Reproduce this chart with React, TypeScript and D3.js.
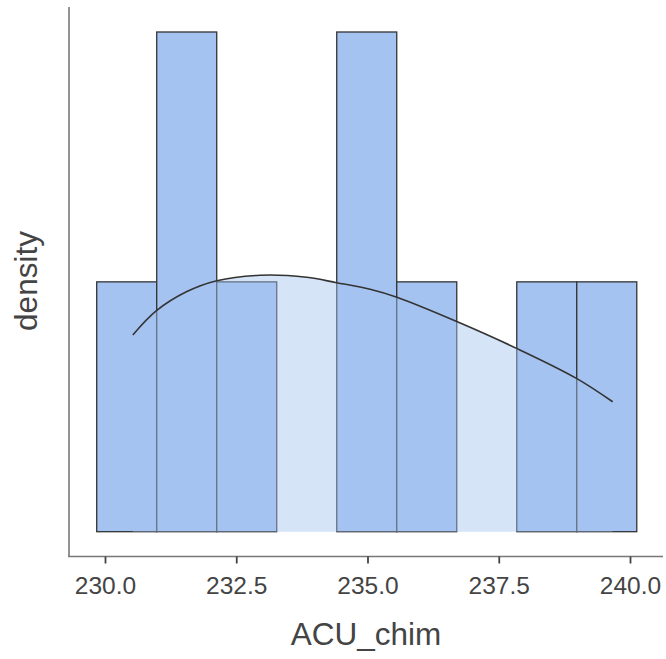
import React, { useEffect, useRef } from 'react';
import * as d3 from 'd3';

// histogram bins (left edges + counts) for ACU_chim
const binEdges = [229.842, 230.985, 232.128, 233.271, 234.414, 235.557, 236.7, 237.843, 238.986, 240.129];
const binCounts = [2, 4, 2, 0, 4, 2, 0, 2, 2];
const sampleSize = 20;

// density curve
const curveX = [230.53, 230.98, 231.56, 232.13, 232.95, 233.84, 234.41, 235.05, 235.56, 236.7, 237.84, 238.98, 239.67];
const curveDensity = [0.0689, 0.0774, 0.0841, 0.0879, 0.0898, 0.0891, 0.0872, 0.0849, 0.0821, 0.0736, 0.0642, 0.0537, 0.0455];

const xTicks = [230, 232.5, 235, 237.5, 240];

const App = () => {
    const ref = useRef<SVGSVGElement>(null);

    useEffect(() => {
        const svg = d3.select(ref.current);
        svg.selectAll('*').remove();

        const x = d3.scaleLinear().domain([230, 240]).range([105, 630]);
        const binWidth = binEdges[1] - binEdges[0];
        const densities = binCounts.map(c => c / (sampleSize * binWidth));
        const y = d3.scaleLinear().domain([0, d3.max(densities) as number]).range([531.7, 32]);

        const bins = binCounts.map((c, i) => ({ x0: binEdges[i], x1: binEdges[i + 1], d: densities[i] }));

        // bars
        svg.append('g')
            .selectAll('rect')
            .data(bins.filter(b => b.d > 0))
            .enter().append('rect')
            .attr('x', d => x(d.x0))
            .attr('y', d => y(d.d))
            .attr('width', d => x(d.x1) - x(d.x0))
            .attr('height', d => y(0) - y(d.d))
            .attr('fill', '#a5c3f0')
            .attr('stroke', '#333')
            .attr('stroke-width', 1.3);

        const pts = curveX.map((v, i) => [v, curveDensity[i]] as [number, number]);

        // density fill drawn over the bars
        const area = d3.area<[number, number]>()
            .x(d => x(d[0]))
            .y0(y(0))
            .y1(d => y(d[1]))
            .curve(d3.curveCatmullRom);
        svg.append('path')
            .attr('d', area(pts))
            .attr('fill', '#a5c3f0')
            .attr('fill-opacity', 0.45);

        const line = d3.line<[number, number]>()
            .x(d => x(d[0]))
            .y(d => y(d[1]))
            .curve(d3.curveCatmullRom);
        svg.append('path')
            .attr('d', line(pts))
            .attr('fill', 'none')
            .attr('stroke', '#333')
            .attr('stroke-width', 1.6);

        // axes
        svg.append('line')
            .attr('x1', 69).attr('x2', 69).attr('y1', 7).attr('y2', 556.5)
            .attr('stroke', '#777').attr('stroke-width', 1.6);

        const xAxis = svg.append('g')
            .attr('transform', 'translate(0,556.5)')
            .call(d3.axisBottom(x).tickValues(xTicks).tickFormat(d3.format('.1f')).tickSize(7).tickPadding(13));
        xAxis.select('.domain')
            .attr('d', 'M68.2,0H663')
            .attr('stroke', '#777')
            .attr('stroke-width', 1.6);
        xAxis.selectAll('.tick line').attr('stroke', '#444').attr('stroke-width', 1.8);
        xAxis.selectAll('.tick text')
            .attr('fill', '#444')
            .style('font-family', 'Liberation Sans, Arial, sans-serif')
            .style('font-size', '24.5px');

        svg.append('text')
            .attr('x', 366)
            .attr('y', 645)
            .attr('text-anchor', 'middle')
            .attr('fill', '#444')
            .style('font-family', 'Liberation Sans, Arial, sans-serif')
            .style('font-size', '31.5px')
            .text('ACU_chim');

        svg.append('text')
            .attr('transform', 'translate(37,281) rotate(-90)')
            .attr('text-anchor', 'middle')
            .attr('fill', '#444')
            .style('font-family', 'Liberation Sans, Arial, sans-serif')
            .style('font-size', '31.5px')
            .text('density');
    }, []);

    return (
        <div style={{ position: 'absolute', left: 0, top: 0 }}>
            <svg ref={ref} width={666} height={659} style={{ display: 'block', background: '#fff' }} />
        </div>
    );
};

export default App;
